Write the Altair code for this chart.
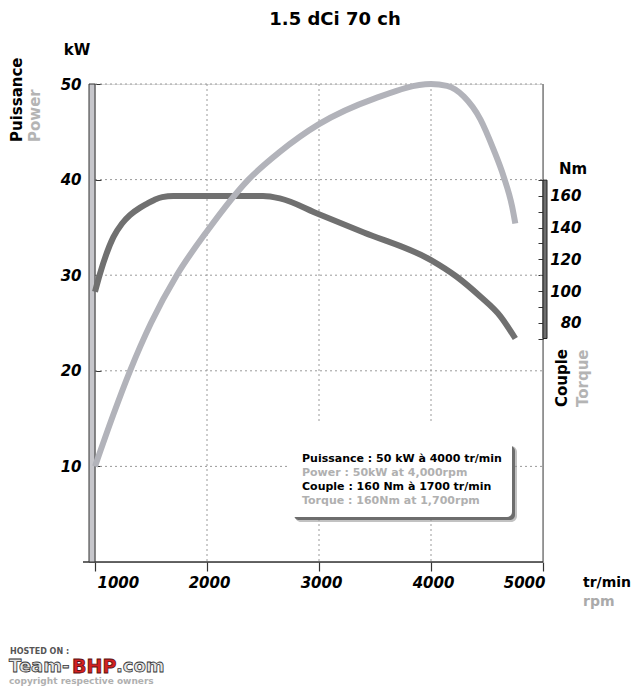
import altair as alt
import pandas as pd

# ---------------- data ----------------
power_rpm = [1000, 1160, 1313, 1500, 1730, 2000, 2370, 2650, 3000, 3500, 4000, 4143, 4292, 4441, 4560, 4649, 4724, 4753]
power_kw = [10.0, 15.3, 20.0, 25.0, 30.0, 34.6, 40.0, 42.9, 45.8, 48.5, 50.0, 49.8, 48.7, 46.3, 43.1, 40.3, 37.2, 35.4]

torque_rpm = [1000, 1045, 1164, 1240, 1313, 1400, 1462, 1530, 1600, 1700, 2500, 2650, 3000, 3400, 4000, 4230, 4440, 4620, 4753]
torque_nm = [99.5, 111, 134, 142.5, 148, 152.5, 155, 157.5, 159.3, 160, 160, 158.5, 148.5, 137, 119.5, 109, 96.5, 84, 70]

x_ticks = [1000, 2000, 3000, 4000, 5000]
x_grid = [2000, 3000, 4000]
kw_ticks = [10, 20, 30, 40, 50]
nm_ticks = [70, 80, 90, 100, 110, 120, 130, 140, 150, 160, 170]
kw_bar = [0, 50]
nm_bar = [70, 170]

title_text = "1.5 dCi 70 ch"
info_lines = [
    "Puissance : 50 kW à 4000 tr/min",
    "Power : 50kW at 4,000rpm",
    "Couple : 160 Nm à 1700 tr/min",
    "Torque : 160Nm at 1,700rpm",
]

power_df = pd.DataFrame({"rpm": power_rpm, "kw": power_kw})
torque_df = pd.DataFrame({"rpm": torque_rpm, "nm": torque_nm})
xgrid_df = pd.DataFrame({"rpm": x_grid})
kwgrid_df = pd.DataFrame({"kw": kw_ticks})
kwbar_df = pd.DataFrame({"kw": [kw_bar[0]], "kw2": [kw_bar[1]]})
nmbar_df = pd.DataFrame({"nm": [nm_bar[0]], "nm2": [nm_bar[1]]})
dummy = pd.DataFrame({"d": [0]})

W, H = 448, 478
FONT = "DejaVu Sans"

x_axis = alt.Axis(values=x_ticks, format="d", title=None, domain=False, grid=False,
                  tickSize=9, tickColor="#333333", tickWidth=1.2,
                  labelFont=FONT, labelFontWeight="bold", labelFontStyle="italic",
                  labelFontSize=15, labelColor="black", labelPadding=4, labelOffset=2)
x_enc = alt.X("rpm:Q", scale=alt.Scale(domain=[1000, 5000], nice=False, zero=False), axis=x_axis)

kw_scale = alt.Scale(domain=[0, 50], nice=False, zero=False)
nm_scale = alt.Scale(domain=[-71.1, 230.7], nice=False, zero=False)

left_axis = alt.Axis(values=kw_ticks, orient="left", title=None, domain=False, grid=False,
                     offset=-6, tickSize=6, tickColor="#333333",
                     labelFont=FONT, labelFontWeight="bold", labelFontStyle="italic",
                     labelFontSize=15, labelColor="black", labelPadding=14)
right_axis = alt.Axis(values=nm_ticks, orient="right", title=None, domain=False, grid=False,
                      offset=-5, tickSize=5, tickColor="#333333",
                      labelExpr="datum.value % 20 == 0 ? datum.label : ''",
                      labelAlign="right", labelPadding=38,
                      labelFont=FONT, labelFontWeight="bold", labelFontStyle="italic",
                      labelFontSize=15, labelColor="black")

grid_style = dict(color="#9a9a9a", strokeWidth=1, strokeDash=[2, 3])

# ---------- base layer (kW scale): grid, box, left bar ----------
vgrid = alt.Chart(xgrid_df).mark_rule(**grid_style).encode(
    x=x_enc, y=alt.value(0), y2=alt.value(H))
hgrid = alt.Chart(kwgrid_df).mark_rule(**grid_style).encode(
    y=alt.Y("kw:Q", scale=kw_scale, axis=left_axis), x=alt.value(0), x2=alt.value(W))
left_bar = alt.Chart(kwbar_df).mark_rect(fill="#c6c6cb", stroke="#333333", strokeWidth=1).encode(
    y=alt.Y("kw:Q", scale=kw_scale, axis=left_axis), y2="kw2:Q",
    x=alt.value(-6), x2=alt.value(0))
frame_right = alt.Chart(dummy).mark_rule(color="#444444", strokeWidth=1).encode(
    x=alt.value(W), y=alt.value(0), y2=alt.value(H))
frame_bottom = alt.Chart(dummy).mark_rule(color="#333333", strokeWidth=1.5).encode(
    x=alt.value(-12), x2=alt.value(W), y=alt.value(H))
box_shadow2 = alt.Chart(dummy).mark_rect(fill="#9a9a9a", opacity=0.6, cornerRadius=6).encode(
    x=alt.value(200), x2=alt.value(422), y=alt.value(362), y2=alt.value(438))
box_shadow = alt.Chart(dummy).mark_rect(fill="#5e5e5e", opacity=0.85, cornerRadius=5).encode(
    x=alt.value(199), x2=alt.value(420), y=alt.value(362), y2=alt.value(436))
box = alt.Chart(dummy).mark_rect(fill="white", cornerRadius=5).encode(
    x=alt.value(195), x2=alt.value(417), y=alt.value(339), y2=alt.value(433))

kw_base = alt.layer(vgrid, hgrid, box_shadow2, box_shadow, box, frame_right, frame_bottom, left_bar)

# ---------- torque layer (Nm scale) ----------
torque_line = alt.Chart(torque_df).mark_line(
    color="#707070", strokeWidth=6, interpolate="monotone", strokeCap="butt").encode(
    x=x_enc, y=alt.Y("nm:Q", scale=nm_scale, axis=right_axis))
right_bar = alt.Chart(nmbar_df).mark_rect(fill="#6e6e6e", stroke="#222222", strokeWidth=1).encode(
    y=alt.Y("nm:Q", scale=nm_scale, axis=right_axis), y2="nm2:Q",
    x=alt.value(W), x2=alt.value(W + 4))
nm_layer = alt.layer(right_bar, torque_line)

# ---------- top layer (kW scale): power and texts ----------
power_line = alt.Chart(power_df).mark_line(
    color="#b2b3ba", strokeWidth=6, interpolate="monotone", strokeCap="butt").encode(
    x=x_enc, y=alt.Y("kw:Q", scale=kw_scale, axis=None))


def txt(text, x, y, size, color="black", angle=0, align="center", weight="bold",
        font=FONT, style="normal", baseline="middle", stroke=None):
    kw = dict(text=text, fontSize=size, color=color, angle=angle, align=align,
              fontWeight=weight, font=font, fontStyle=style, baseline=baseline)
    if stroke is not None:
        kw["stroke"] = stroke
        kw["strokeWidth"] = 0.8
    return alt.Chart(dummy).mark_text(**kw).encode(x=alt.value(x), y=alt.value(y))


texts = [
    txt(title_text, 240, -64, 18),
    txt("kW", -18, -34, 15),
    txt("Puissance", -78, 58, 15, angle=270, align="left"),
    txt("Power", -60, 58, 15, color="#b4b4b4", angle=270, align="left"),
    txt("Nm", 478, 85, 15),
    txt("Couple", 467, 323, 15, angle=270, align="left"),
    txt("Torque", 488, 323, 15, color="#b4b4b4", angle=270, align="left"),
    txt("tr/min", 488, 499, 14, align="left"),
    txt("rpm", 488, 518, 14, color="#aaaaaa", align="left"),
    txt(info_lines[0], 207, 375, 11, align="left"),
    txt(info_lines[1], 207, 389, 11, color="#b0b0b0", align="left"),
    txt(info_lines[2], 207, 403, 11, align="left"),
    txt(info_lines[3], 207, 417, 11, color="#b0b0b0", align="left"),
    txt("HOSTED ON :", -85, 568, 8, color="#555555", align="left"),
    txt("Team-", -86, 583, 18, color="#e6e6e6", align="left", stroke="#333333"),
    txt("BHP", -23, 583, 19, color="#d42020", align="left", stroke="#5a1010"),
    txt(".com", 21, 583, 18, color="#e6e6e6", align="left", stroke="#333333"),
    txt("copyright respective owners", -86, 597, 9, color="#b0b0b0", align="left"),
]

kw_top = alt.layer(power_line, *texts)

chart = alt.layer(kw_base, nm_layer, kw_top).resolve_scale(y="independent").properties(
    width=W, height=H,
    padding={"left": 87, "top": 76, "right": 89, "bottom": 124},
    autosize=alt.AutoSizeParams(type="none"),
).configure_view(stroke=None).configure(background="white")

chart.save("out.html", embed_options={"renderer": "svg", "actions": False})
